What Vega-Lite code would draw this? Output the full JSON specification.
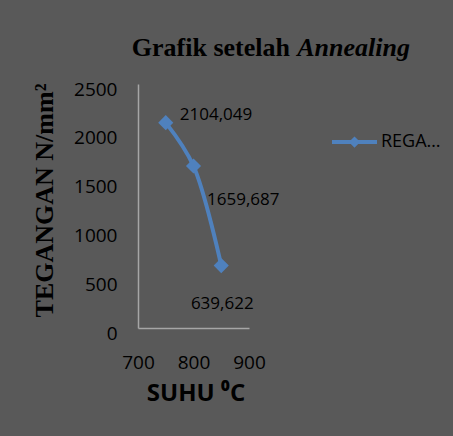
{
  "$schema": "https://vega.github.io/schema/vega-lite/v6.json",
  "width": 111,
  "height": 244,
  "autosize": {"type": "none"},
  "padding": {"left": 138, "top": 84, "right": 204, "bottom": 108},
  "background": "#595959",
  "title": {
    "text": "Grafik setelah",
    "subtitle": "Annealing",
    "font": "Liberation Serif",
    "fontSize": 26,
    "fontWeight": "bold",
    "color": "#000000",
    "subtitleFont": "Liberation Serif",
    "subtitleFontSize": 26,
    "subtitleFontWeight": "bold",
    "subtitleFontStyle": "italic",
    "subtitleColor": "#000000",
    "subtitlePadding": -26,
    "anchor": "end",
    "frame": "group",
    "dx": 161,
    "offset": 19,
    "encoding": {"dx": {"value": 41}}
  },
  "data": {
    "values": [
      {"suhu": 750, "tegangan": 2104.049, "seri": "REGA…"},
      {"suhu": 800, "tegangan": 1659.687, "seri": "REGA…"},
      {"suhu": 850, "tegangan": 639.622, "seri": "REGA…"}
    ]
  },
  "encoding": {
    "x": {
      "field": "suhu",
      "type": "quantitative",
      "scale": {"domain": [700, 900], "nice": false, "zero": false},
      "axis": {
        "values": [700, 800, 900],
        "format": "d",
        "labelFlush": false,
        "labelOverlap": false,
        "title": "SUHU ⁰C",
        "labelPadding": 25,
        "titleFont": "Open Sans",
        "titleFontSize": 24,
        "titleFontWeight": "bold",
        "titleX": 57.5,
        "titleY": 65,
        "titleAlign": "center",
        "titleBaseline": "middle"
      }
    },
    "y": {
      "field": "tegangan",
      "type": "quantitative",
      "scale": {"domain": [0, 2500], "nice": false},
      "axis": {
        "values": [0, 500, 1000, 1500, 2000, 2500],
        "format": "d",
        "title": "TEGANGAN N/mm²",
        "labelPadding": 21,
        "labelOffset": 5,
        "titleFont": "Liberation Serif",
        "titleFontSize": 26,
        "titleFontWeight": "bold",
        "titleAngle": -90,
        "titleX": -94,
        "titleY": 116,
        "titleAlign": "center",
        "titleBaseline": "middle"
      }
    }
  },
  "layer": [
    {
      "mark": {"type": "line", "interpolate": "catmull-rom", "color": "#4F81BD", "strokeWidth": 4}
    },
    {
      "mark": {"type": "point", "shape": "diamond", "filled": true, "size": 230, "opacity": 1},
      "encoding": {
        "color": {
          "field": "seri",
          "type": "nominal",
          "scale": {"range": ["#4F81BD"]},
          "legend": {
            "title": null,
            "orient": "none",
            "legendX": 194,
            "legendY": 35.5,
            "padding": 0,
            "symbolType": "M-1,-0.09L1,-0.09L1,0.09L-1,0.09Z M0,-0.25L0.25,0L0,0.25L-0.25,0Z",
            "symbolSize": 2025,
            "symbolStrokeWidth": 0,
            "symbolOpacity": 1,
            "labelOffset": 4,
            "labelFont": "Open Sans",
            "labelFontSize": 18,
            "labelColor": "#000000"
          }
        }
      }
    },
    {
      "transform": [{"filter": "datum.suhu == 750"}],
      "mark": {"type": "text", "align": "left", "baseline": "middle", "dx": 14, "dy": -8, "font": "Open Sans", "fontSize": 17, "color": "#000000"},
      "encoding": {"text": {"field": "tegangan", "type": "quantitative", "format": ".3f"}}
    },
    {
      "transform": [{"filter": "datum.suhu == 800"}],
      "mark": {"type": "text", "align": "left", "baseline": "middle", "dx": 13.5, "dy": 34, "font": "Open Sans", "fontSize": 17, "color": "#000000"},
      "encoding": {"text": {"field": "tegangan", "type": "quantitative", "format": ".3f"}}
    },
    {
      "transform": [{"filter": "datum.suhu == 850"}],
      "mark": {"type": "text", "align": "center", "baseline": "middle", "dx": 1, "dy": 38, "font": "Open Sans", "fontSize": 17, "color": "#000000"},
      "encoding": {"text": {"field": "tegangan", "type": "quantitative", "format": ".3f"}}
    }
  ],
  "config": {
    "locale": {"number": {"decimal": ",", "thousands": ".", "grouping": [3], "currency": ["", ""]}},
    "view": {"stroke": null},
    "axis": {
      "grid": false,
      "ticks": false,
      "tickSize": 0,
      "domainColor": "#A6A6A6",
      "domainWidth": 1.5,
      "labelFont": "Open Sans",
      "labelFontSize": 19,
      "labelColor": "#000000",
      "titleColor": "#000000"
    }
  }
}
